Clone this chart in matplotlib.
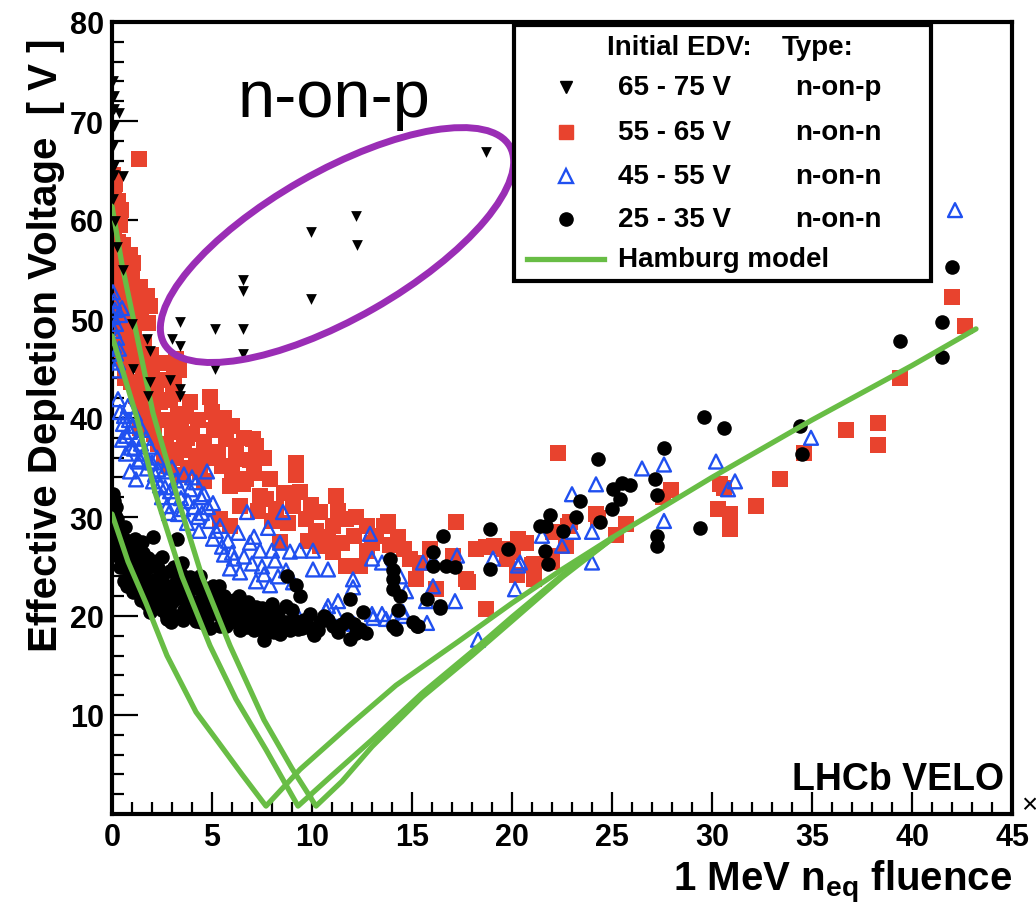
import matplotlib
matplotlib.use("Agg")
import matplotlib.pyplot as plt
from matplotlib.patches import Ellipse, Rectangle
from matplotlib.transforms import IdentityTransform
from matplotlib.ticker import MultipleLocator, FuncFormatter

plt.rcParams['font.family'] = ['Liberation Sans', 'DejaVu Sans']
plt.rcParams['mathtext.fontset'] = 'custom'
plt.rcParams['mathtext.bf'] = 'Liberation Sans:bold'
plt.rcParams['mathtext.rm'] = 'Liberation Sans'

# ---- data: 65-75 V, n-on-p (black down triangles)
tri_x = [0.05, 0.1, 0.1, 0.35, 0.1, 0.05, 0.1, 0.55, 0.1, 0.05, 0.15, 0.25, 0.55,
         1.0, 1.05, 1.75, 1.9, 1.9, 1.8, 2.9, 3.4, 3.4, 3.0, 3.4, 3.4,
         5.15, 6.55, 6.55, 6.55, 6.55, 5.15, 9.95, 9.95, 12.2, 12.25, 18.7]
tri_y = [74.0, 72.5, 71.2, 70.8, 69.5, 67.5, 65.5, 64.4, 64.5, 62.1, 59.9, 57.3, 55.0,
         49.5, 45.0, 48.0, 46.8, 43.6, 42.2, 43.8, 42.9, 42.2, 48.0, 47.3, 49.7,
         49.0, 49.0, 52.8, 53.9, 46.5, 45.0, 52.0, 58.8, 60.4, 57.5, 66.9]

# ---- 55-65 V, n-on-n (red squares)
sq_x = [0.05, 0.15, 0.1, 0.3, 0.05, 0.2, 0.4, 0.1, 0.3, 0.05, 0.2, 0.4, 0.1, 0.3,
        0.15, 0.45, 0.25, 0.5, 0.35, 0.6, 0.5, 0.6, 0.45, 0.55, 1.37,
        0.9, 1.05, 1.0, 0.8, 1.2, 1.4, 1.73, 1.9, 1.4, 1.1, 1.6, 0.9, 1.3, 1.55,
        0.95, 1.2, 1.5, 1.75, 1.4, 2.0, 1.9, 2.1,
        0.7, 0.75, 0.85, 0.65, 1.0, 1.15, 1.3, 1.45, 1.6, 1.7, 1.8, 1.95, 2.05, 2.2,
        2.3, 2.4, 2.6, 2.8, 2.85, 3.05, 3.35, 3.4, 3.7, 3.75, 4.1, 4.3, 4.6, 4.6,
        2.7, 2.55, 2.9, 3.2, 3.1, 3.3, 3.0, 2.7, 3.45, 3.6, 3.2, 3.8, 4.0, 4.2,
        4.4, 2.45, 3.9, 3.55,
        4.9, 5.0, 5.1, 4.9, 5.2, 5.5, 5.7, 5.9, 6.0, 6.2, 6.2, 6.4, 6.55, 6.6,
        6.7, 7.05, 7.2, 7.4, 7.7, 7.9, 8.4, 5.4, 5.9, 9.2, 9.2, 9.4, 9.05, 8.2,
        5.3, 5.6, 6.0, 6.9, 7.1, 7.6, 7.3, 8.0, 8.6, 8.8,
        9.7, 9.8, 10.4, 10.4, 11.05, 11.05, 11.2, 11.3, 11.7, 11.7, 12.1, 12.4,
        12.75, 12.75, 13.2, 13.6, 13.8, 13.9, 14.6, 14.9, 15.2, 15.4, 15.9, 16.2,
        9.95, 10.2, 10.8, 11.5, 12.2, 13.0, 14.3,
        17.05, 17.2, 17.7, 17.8, 18.2, 18.7, 18.7, 19.1, 19.6, 19.75, 20.05,
        20.3, 20.25, 20.7, 21.0,
        21.1, 21.1, 21.9, 22.0, 22.05, 22.3, 22.7, 22.8, 22.9, 24.2, 24.3, 25.2,
        25.7, 27.95, 27.55, 30.3, 30.4, 30.6, 30.9, 30.9, 32.2, 33.4, 34.6,
        36.7, 38.3, 38.3, 39.4, 42.0, 42.65]
sq_y = [64.5, 63.6, 62.5, 61.9, 61.0, 60.2, 59.5, 58.6, 57.8, 57.0, 56.2, 55.4, 54.5, 53.6,
        52.7, 52.0, 51.0, 50.1, 49.1, 48.2, 46.9, 45.7, 61.0, 57.5, 66.2,
        56.5, 55.7, 54.0, 52.6, 51.8, 53.2, 52.3, 51.3, 49.8, 48.4, 47.6, 46.5, 45.4, 44.2,
        43.6, 42.2, 41.1, 40.0, 39.0, 44.8, 42.6, 38.4,
        55.0, 50.5, 48.8, 44.0, 50.8, 46.8, 43.6, 51.2, 45.2, 42.8, 49.6, 46.4, 40.8, 43.2,
        37.4, 41.6, 36.2, 39.8, 35.2, 42.4, 44.8, 36.8, 40.2, 38.0, 35.0, 39.8, 37.6, 33.6,
        45.6, 43.8, 41.8, 46.0, 44.0, 40.4, 38.6, 37.4, 39.4, 37.2, 36.0, 35.0, 38.4, 36.2,
        34.5, 39.8, 41.6, 34.2,
        42.1, 40.6, 38.8, 36.0, 39.2, 35.2, 37.9, 33.1, 39.2, 37.2, 35.9, 31.1, 33.3, 38.0,
        33.8, 37.9, 37.2, 32.1, 31.8, 33.8, 27.5, 29.8, 29.1, 35.5, 34.2, 32.5, 31.1, 30.8,
        36.6, 40.0, 34.6, 35.8, 34.4, 36.0, 30.6, 29.6, 32.4, 29.4,
        29.8, 27.6, 30.5, 27.1, 29.1, 26.5, 32.1, 30.6, 29.8, 25.1, 28.1, 25.1,
        29.1, 26.6, 28.1, 29.1, 29.5, 27.2, 26.8, 25.8, 23.7, 25.4, 26.8, 22.7,
        31.2, 28.6, 28.0, 27.4, 30.0, 27.4, 28.0,
        26.1, 29.5, 23.7, 23.4, 26.8, 27.0, 20.7, 27.1, 26.8, 25.8, 26.5,
        27.8, 24.1, 27.4, 25.2,
        25.3, 23.7, 26.1, 25.5, 28.5, 36.5, 27.1, 29.1, 29.5, 30.3, 29.9, 28.2,
        29.3, 32.7, 32.0, 30.8, 33.3, 32.9, 30.3, 28.8, 31.1, 33.8, 36.5,
        38.8, 39.5, 37.3, 44.0, 52.2, 49.3]

# ---- 45-55 V, n-on-n (blue open triangles)
otri_x = [0.05, 0.1, 0.15, 0.05, 0.2, 0.1, 0.25, 0.1, 0.2, 0.3, 0.15, 0.4, 0.35, 0.5,
          0.3, 0.4, 0.55, 0.5, 0.7, 0.8, 0.9, 1.05, 1.1, 1.25, 1.4, 1.5, 1.6, 1.75,
          1.9, 2.0, 2.15, 2.25,
          0.6, 0.7, 0.85, 0.95, 1.15, 1.3, 1.45, 1.7, 1.85, 2.05, 2.3, 2.5, 2.65,
          2.85, 3.1, 3.35, 3.55, 3.8, 4.0, 4.3, 4.45, 4.8, 5.2, 5.5, 6.0, 6.6, 7.1,
          7.5, 8.0, 8.3,
          0.9, 1.2, 2.4, 2.6, 2.75, 2.9, 3.0, 3.2, 3.3, 3.45, 3.6, 3.75, 3.9, 4.1,
          4.2, 4.35, 4.5, 4.6, 4.75, 4.9, 5.05, 5.05,
          5.4, 5.6, 5.8, 5.9, 6.1, 6.4, 6.3, 6.75, 6.9, 7.0, 7.2, 7.4, 7.6, 7.8,
          7.9, 8.15, 8.4, 8.55, 8.7, 8.9, 9.05, 9.3, 9.4,
          10.05, 10.05, 10.8, 10.7, 10.8, 11.2, 11.3, 12.05, 12.05, 12.1, 12.9,
          13.0, 13.0, 13.05, 13.5, 13.5, 13.7, 14.05, 14.4, 14.55, 14.6, 14.7,
          15.55, 15.7, 15.75, 16.05, 16.05, 17.15, 17.25, 18.3, 19.05, 20.15,
          20.3, 20.4,
          21.5, 22.5, 23.0, 23.05, 24.0, 24.0, 24.2, 26.5, 27.6, 27.6, 30.2,
          30.8, 31.15, 34.95, 42.15]
otri_y = [52.7, 51.8, 50.9, 50.2, 49.5, 48.8, 48.1, 47.3, 46.5, 45.6, 44.8, 50.4, 47.0, 51.1,
          41.9, 40.6, 39.4, 37.8, 36.4, 41.2, 38.6, 39.2, 36.9, 37.9, 35.8, 38.8, 36.4, 34.9,
          37.1, 35.5, 34.3, 36.0,
          40.2, 38.2, 39.8, 37.0, 40.4, 35.6, 37.4, 38.0, 35.6, 33.6, 34.8, 32.0, 33.0,
          30.4, 32.0, 33.0, 30.8, 31.6, 34.0, 30.0, 32.0, 31.0, 28.6, 27.0, 26.4, 26.0, 28.0,
          25.0, 26.6, 24.0,
          34.6, 33.8, 33.2, 34.6, 31.1, 32.6, 35.0, 33.7, 30.3, 31.9, 34.3, 29.4, 32.8, 31.0,
          33.5, 28.6, 30.4, 32.3, 34.6, 29.6, 31.4, 27.8,
          29.1, 26.2, 27.6, 24.8, 25.8, 24.4, 28.4, 30.5, 27.4, 25.3, 23.5, 26.6, 24.2, 28.9,
          23.1, 25.6, 27.4, 30.5, 24.6, 26.5, 23.4, 20.0, 26.6,
          26.6, 24.7, 24.7, 20.6, 21.0, 20.3, 21.5, 23.7, 22.9, 19.2, 28.3,
          25.8, 20.2, 19.8, 25.4, 20.2, 19.7, 19.7, 24.0, 20.4, 20.0, 22.5,
          25.4, 21.5, 19.3, 25.6, 23.0, 21.5, 26.1, 17.6, 25.8, 22.7,
          25.1, 25.4,
          28.1, 27.1, 32.3, 28.5, 28.5, 25.4, 33.3, 34.9, 35.3, 29.6, 35.6,
          32.8, 33.6, 38.0, 61.0]

# ---- 25-35 V, n-on-n (black circles)
dot_x = [0.05, 0.1, 0.05, 0.15, 0.1, 0.2, 0.05, 0.15, 0.3, 0.1, 0.25, 0.2,
         0.45, 0.6, 0.5, 0.7, 0.9, 0.8, 1.0, 1.1, 1.2, 0.6, 0.75, 1.05, 1.3, 1.4, 0.4, 1.5,
         1.6, 1.7, 1.8, 1.9, 1.9, 2.05, 2.1, 2.2, 2.3, 2.4, 2.5, 2.6, 2.7, 2.75, 2.8,
         2.9, 2.95, 3.0,
         0.35, 0.5, 0.65, 0.8, 0.95, 1.15, 1.25, 1.35, 1.45, 1.55, 1.65, 1.75, 1.85,
         2.0, 2.15, 2.25, 2.35, 2.5, 2.55, 2.65, 2.85, 3.05, 3.1, 3.15, 3.3, 3.45,
         3.55, 3.7, 3.85, 4.0, 4.05, 4.25, 4.3, 4.45, 4.65, 4.85, 5.1, 5.3, 5.35,
         5.65, 5.7, 5.95, 6.3, 6.35, 6.6, 6.9, 7.1, 7.3, 7.5, 7.9, 8.1, 8.3, 8.9,
         9.1, 9.5, 9.8, 10.3, 10.8, 11.5, 12.2,
         3.25, 3.5, 3.2, 3.4, 3.6, 3.75, 3.8, 3.9, 4.1, 4.2, 4.4, 4.5, 4.6, 4.75, 4.8,
         4.9, 5.05, 5.0,
         5.2, 5.4, 5.5, 5.6, 5.8, 6.05, 6.1, 6.2, 6.4, 6.5, 6.75, 6.8, 7.0, 7.2, 7.4,
         7.6, 7.75, 7.8, 8.0, 8.2, 8.4,
         8.55, 8.7, 8.75, 8.7, 9.0, 9.2, 9.3, 9.4, 9.6, 9.9, 10.05, 10.1, 10.4, 10.6,
         11.05, 11.3, 11.75, 11.9, 11.9, 12.1, 12.4, 12.55, 12.7,
         13.9, 14.05, 14.05, 14.05, 14.2, 14.05, 14.4, 14.3, 15.05, 15.25, 15.3, 15.75,
         16.05, 16.05, 16.4, 16.4, 16.55, 16.7, 17.15, 18.9, 18.9, 19.8,
         21.4, 21.7, 21.9, 21.65, 21.8, 22.55, 23.2, 23.4, 24.3, 24.4, 25.0, 25.05,
         25.5, 25.9, 25.4, 27.15, 27.25, 27.6, 27.25, 27.25, 29.4, 29.6, 30.6,
         34.4, 34.5, 39.4, 41.5, 41.5, 42.0]
dot_y = [32.3, 31.6, 30.8, 30.2, 29.5, 28.8, 28.2, 27.6, 27.0, 26.5, 29.8, 31.0,
         28.6, 27.8, 26.4, 25.6, 26.9, 24.6, 25.9, 24.0, 26.8, 23.5, 23.0, 22.4, 23.3, 25.2, 24.9, 27.5,
         24.4, 22.9, 25.9, 21.8, 20.4, 28.0, 23.6, 22.2, 24.8, 21.0, 26.0, 23.2, 20.2, 19.7, 22.0,
         24.5, 19.4, 21.4,
         26.0, 25.0, 29.0, 27.6, 23.8, 27.8, 22.6, 24.4, 21.6, 26.4, 23.6, 21.2, 24.9,
         22.8, 21.6, 25.6, 23.0, 20.6, 24.2, 22.4, 20.8, 23.0, 25.0, 20.0, 21.8, 24.2,
         19.6, 23.2, 21.2, 20.0, 22.8, 23.4, 21.4, 19.4, 22.8, 20.2, 21.6, 20.2, 23.0,
         21.0, 19.0, 21.0, 20.2, 22.0, 19.6, 20.6, 18.6, 19.8, 20.8, 19.2, 18.4, 20.4, 18.6,
         19.6, 18.8, 19.0, 18.6, 19.6, 19.2, 18.3,
         27.8, 25.4, 23.4, 22.6, 20.6, 20.4, 22.0, 23.9, 21.2, 19.5, 24.0, 22.4, 20.4, 19.7, 21.6,
         18.8, 23.0, 20.9,
         22.2, 19.0, 20.8, 22.0, 19.6, 20.4, 21.6, 19.4, 18.6, 20.8, 18.9, 21.4, 19.8, 20.9, 18.7,
         17.6, 18.4, 20.2, 21.2, 19.3, 18.2,
         19.4, 19.4, 24.0, 21.0, 20.6, 23.1, 18.7, 22.0, 19.6, 20.2, 18.4, 18.1, 19.4, 20.0,
         19.0, 18.4, 19.7, 17.7, 21.7, 19.2, 18.7, 20.4, 18.3,
         25.8, 24.6, 23.7, 22.7, 18.7, 19.0, 22.0, 20.6, 19.4, 19.0, 19.0, 21.7,
         26.5, 25.1, 21.0, 20.8, 28.1, 25.1, 24.9, 28.8, 24.7, 26.8,
         29.1, 29.1, 30.2, 26.6, 25.3, 28.6, 30.0, 31.6, 35.9, 29.5, 30.8, 32.8,
         33.4, 33.2, 31.8, 33.8, 32.2, 37.0, 28.1, 27.1, 28.9, 40.1, 39.0,
         39.2, 36.4, 47.8, 49.7, 46.2, 55.3]

# ---- Hamburg model curves (fluence, voltage)
ham_a_x = [0, 0.8, 1.7, 2.75, 4.2, 5.3, 6.5, 7.7, 9.4, 11.9, 14.2, 17.3, 20, 22.5, 25]
ham_a_y = [30.3, 25.5, 21.3, 16.0, 10.3, 7.3, 4.0, 0.8, 4.5, 9.0, 13.0, 17.4, 21.3, 24.7, 27.9]
ham_b_x = [0, 1.25, 2.15, 3.5, 4.9, 6.2, 7.7, 9.3, 11, 13, 15.5, 18, 20, 22.5, 25]
ham_b_y = [48.3, 40.0, 32.5, 24.0, 17.0, 11.6, 6.5, 0.8, 3.9, 7.5, 12.2, 16.4, 19.9, 24.1, 27.8]
ham_c_x = [0, 0.5, 1.07, 2.05, 3.3, 4.5, 5.9, 7.6, 9, 10.2, 11.5, 13, 15.5, 18, 20, 22.5, 25]
ham_c_y = [61.4, 55.5, 50.0, 40.5, 31.8, 24.0, 17.0, 9.5, 4.6, 0.8, 3.3, 6.8, 11.8, 16.0, 19.5, 23.9, 27.8]
ham_tail_x = [25, 30, 35, 40, 43.2]
ham_tail_y = [27.9, 34.0, 39.8, 45.3, 49.0]

legend_rows = [("65 - 75 V", "n-on-p"), ("55 - 65 V", "n-on-n"),
               ("45 - 55 V", "n-on-n"), ("25 - 35 V", "n-on-n")]

RED = '#e8432e'
BLUE = '#2050f0'
GREEN = '#68bd45'
PURPLE = '#9a2db5'

fig = plt.figure(figsize=(10.36, 9.04), dpi=100)
ax = fig.add_axes([112 / 1036, 89 / 904, 900 / 1036, 792 / 904])
ax.set_xlim(0, 45)
ax.set_ylim(0, 80)

ax.scatter(sq_x, sq_y, marker='s', s=125, color=RED, linewidths=0, zorder=2)
ax.scatter(otri_x, otri_y, marker='^', s=100, facecolors='none', edgecolors=BLUE,
           linewidths=1.7, zorder=3)
ax.scatter(dot_x, dot_y, marker='o', s=110, color='black', linewidths=0, zorder=4)
for hx, hy in [(ham_a_x, ham_a_y), (ham_b_x, ham_b_y), (ham_c_x, ham_c_y),
               (ham_tail_x, ham_tail_y)]:
    ax.plot(hx, hy, color=GREEN, lw=3.8, solid_joinstyle='round',
            solid_capstyle='round', zorder=5)
ax.scatter(tri_x, tri_y, marker='v', s=60, color='black', linewidths=0, zorder=6)

# axes styling (ROOT look)
for sp in ax.spines.values():
    sp.set_linewidth(3)
ax.xaxis.set_major_locator(MultipleLocator(5))
ax.xaxis.set_minor_locator(MultipleLocator(1))
ax.yaxis.set_major_locator(MultipleLocator(10))
ax.yaxis.set_minor_locator(MultipleLocator(2))
ax.tick_params(which='both', direction='in', top=False, right=False, width=1.6)
ax.tick_params(axis='x', which='major', length=16, pad=6, labelsize=22)
ax.tick_params(axis='y', which='major', length=19, pad=6, labelsize=22)
ax.tick_params(which='minor', length=8.5)
ax.yaxis.set_major_formatter(FuncFormatter(lambda v, p: '' if v == 0 else '%d' % v))
for lab in ax.get_xticklabels() + ax.get_yticklabels():
    lab.set_fontweight('bold')

ax.set_ylabel('Effective Depletion Voltage  [ V ]', fontsize=29, fontweight='bold')
ax.yaxis.set_label_coords(-0.052, 0.593)
ax.set_xlabel(r'1 MeV n$_{\mathbf{eq}}$ fluence', fontsize=29, fontweight='bold',
              loc='right', labelpad=4)
fig.text(1021 / 1036, 98 / 904, '×', fontsize=20, ha='left', va='center')

ax.text(0.991, 0.032, 'LHCb VELO', transform=ax.transAxes, ha='right', va='baseline',
        fontsize=27, fontweight='bold', zorder=8)

# annotation
ax.text(6.3, 70.5, 'n-on-p', fontsize=48, ha='left', va='baseline', zorder=8)
fig.canvas.draw()
cx, cy = ax.transData.transform((11.25, 57.47))
ax.add_patch(Ellipse((cx, cy), 2 * 199, 2 * 73.5, angle=29.7, transform=IdentityTransform(),
                     fill=False, edgecolor=PURPLE, lw=5, zorder=7))

# legend box
ax.add_patch(Rectangle((0.4467, 0.673), 0.4633, 0.323, transform=ax.transAxes,
                       facecolor='white', edgecolor='black', lw=3, zorder=9, clip_on=False))
tkw = dict(transform=ax.transAxes, fontsize=20, fontweight='bold', va='center', zorder=10)
ax.text(0.55, 0.968, 'Initial EDV:', ha='left', **tkw)
ax.text(0.744, 0.968, 'Type:', ha='left', **tkw)
row_y = [0.918, 0.861, 0.806, 0.751]
styles = [dict(marker='v', color='black', ms=8, ls='none'),
          dict(marker='s', color=RED, ms=10, ls='none'),
          dict(marker='^', mfc='none', mec=BLUE, mew=1.7, ms=9.5, ls='none'),
          dict(marker='o', color='black', ms=9.5, ls='none')]
for (edv, kind), yy, st in zip(legend_rows, row_y, styles):
    ax.plot([0.504], [yy], transform=ax.transAxes, zorder=10, clip_on=False, **st)
    ax.text(0.562, yy, edv, ha='left', **tkw)
    ax.text(0.759, yy, kind, ha='left', **tkw)
ax.plot([0.461, 0.547], [0.701, 0.701], transform=ax.transAxes, color=GREEN, lw=3.8,
        zorder=10, clip_on=False)
ax.text(0.562, 0.701, 'Hamburg model', ha='left', **tkw)

fig.savefig('out.png', dpi=100)
